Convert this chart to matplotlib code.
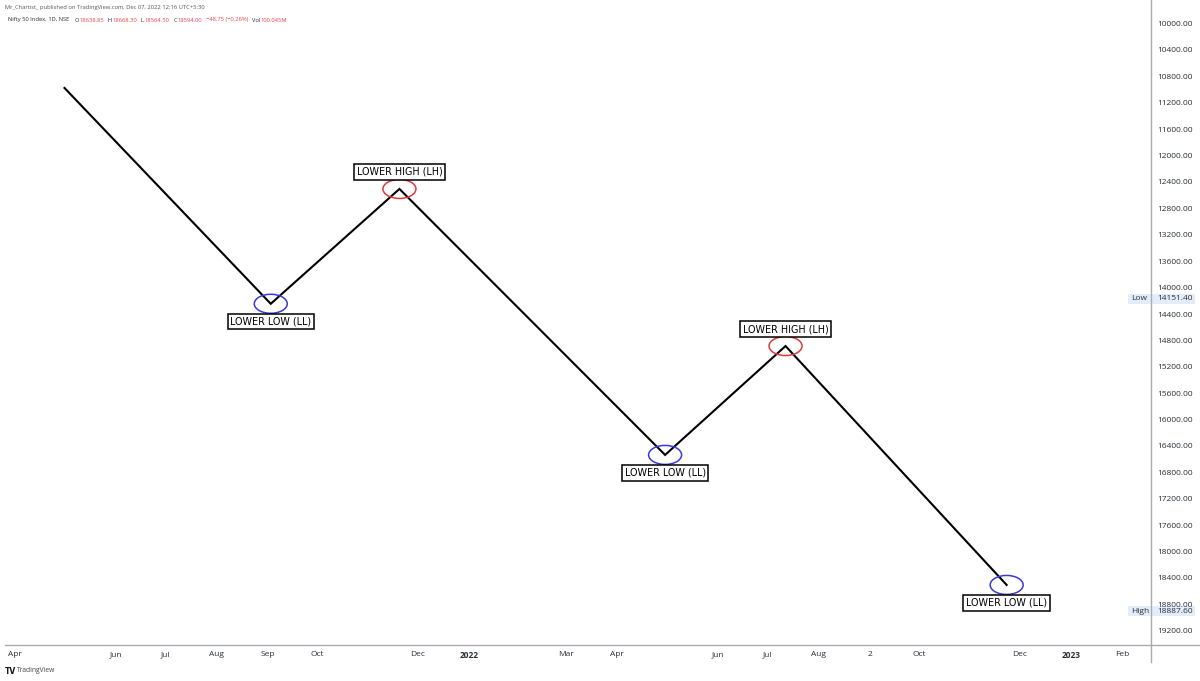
import matplotlib
matplotlib.use("Agg")
import matplotlib.pyplot as plt
import matplotlib.dates as mdates
from matplotlib.patches import Ellipse, Rectangle
from matplotlib.lines import Line2D
import datetime as dt

# ---- swing pivots of the drawn path ----
pivot_dates = ["2021-05-01", "2021-09-03", "2021-11-20", "2022-04-30", "2022-07-12", "2022-11-23"]
pivot_prices = [10960, 14230, 12490, 16520, 14870, 18490]
pivot_kind = [None, "LL", "LH", "LL", "LH", "LL"]
kind_text = {"LL": "LOWER LOW (LL)", "LH": "LOWER HIGH (LH)"}

# ---- price scale ----
price_ticks = [10000, 10400, 10800, 11200, 11600, 12000, 12400, 12800, 13200, 13600,
               14000, 14400, 14800, 15200, 15600, 16000, 16400, 16800, 17200, 17600,
               18000, 18400, 18800, 19200]
range_low = 14151.40
range_high = 18887.60

# ---- time scale ----
time_tick_dates = ["2021-04-01", "2021-06-01", "2021-07-01", "2021-08-01", "2021-09-01",
                   "2021-10-01", "2021-12-01", "2022-01-01", "2022-03-01", "2022-04-01",
                   "2022-06-01", "2022-07-01", "2022-08-01", "2022-09-01", "2022-10-01",
                   "2022-12-01", "2023-01-01", "2023-02-01"]
time_tick_labels = ["Apr", "Jun", "Jul", "Aug", "Sep", "Oct", "Dec", "2022", "Mar", "Apr",
                    "Jun", "Jul", "Aug", "2", "Oct", "Dec", "2023", "Feb"]

# ---- header ----
publisher_line = "Mr_Chartist_ published on TradingView.com, Dec 07, 2022 12:16 UTC+5:30"
symbol_line = "Nifty 50 Index, 1D, NSE"
ohlc_keys = ["O", "H", "L", "C", "", "Vol"]
ohlc_vals = ["18638.85", "18668.30", "18564.50", "18594.00", "\u221248.75 (\u22120.26%)", "100.045M"]

W, H, DPI = 1200, 681, 100
fig = plt.figure(figsize=(W / DPI, H / DPI), dpi=DPI)
fig.patch.set_facecolor("white")

def fx(px):
    return px / W

def fy(py):
    return 1 - py / H

plot_right, plot_bottom = 1151, 645
ax = fig.add_axes([0, fy(plot_bottom), fx(plot_right), plot_bottom / H])
ax.set_facecolor("white")
for s in ax.spines.values():
    s.set_visible(False)
ax.tick_params(left=False, bottom=False, labelleft=False, labelbottom=False)

t0 = mdates.date2num(dt.date(2021, 4, 1))
px_per_day = 1.65
ax.set_xlim(t0 - 15 / px_per_day, t0 + (plot_right - 15) / px_per_day)
px_per_unit = 0.066
ax.set_ylim(10000 + (plot_bottom - 24.6) / px_per_unit, 10000 - 24.6 / px_per_unit)

xs = [mdates.date2num(dt.date.fromisoformat(d)) for d in pivot_dates]
ax.plot(xs, pivot_prices, color="black", lw=1.5, solid_joinstyle="miter", zorder=3)

ell_w = 33 / px_per_day
ell_h = 19 / px_per_unit
for x, p, k in zip(xs, pivot_prices, pivot_kind):
    if k is None:
        continue
    col = "#3a3ad6" if k == "LL" else "#e03a3a"
    ax.add_patch(Ellipse((x, p), ell_w, ell_h, fill=False, edgecolor=col, lw=1.1, zorder=4))
    off = -18 if k == "LL" else 17
    ax.annotate(kind_text[k], (x, p), xytext=(0, off), textcoords="offset pixels",
                ha="center", va="center", fontsize=6.9, family="DejaVu Sans", color="black",
                bbox=dict(boxstyle="square,pad=0.28", fc="white", ec="black", lw=1.1), zorder=5)

# axis frame lines
axis_col = "#a9abb2"
fig.add_artist(Line2D([fx(5), 1], [fy(plot_bottom)] * 2, transform=fig.transFigure, color=axis_col, lw=1))
fig.add_artist(Line2D([fx(plot_right)] * 2, [1, fy(662)], transform=fig.transFigure, color=axis_col, lw=1))

label_font = "Open Sans"
txt_col = "#2a2e39"
axis_fs = 6.0

# price labels on the right scale
for p in price_ticks:
    y = ax.transData.transform((0, p))[1] / H
    fig.text(fx(1157), y, f"{p:.2f}", fontsize=axis_fs, family=label_font, color=txt_col,
             ha="left", va="center")

# visible-range low / high tags
for val, name in [(range_low, "Low"), (range_high, "High")]:
    y = ax.transData.transform((0, val))[1] / H
    fig.add_artist(Rectangle((fx(1128), y - 5 / H), fx(1195) - fx(1128), 10 / H,
                             transform=fig.transFigure, facecolor="#e3edf9", edgecolor="none", zorder=1))
    fig.text(fx(1131), y, name, fontsize=axis_fs, family=label_font, color=txt_col, ha="left", va="center", zorder=2)
    fig.text(fx(1157), y, f"{val:.2f}", fontsize=axis_fs, family=label_font, color=txt_col, ha="left", va="center", zorder=2)

# time labels
for d, lab in zip(time_tick_dates, time_tick_labels):
    x = ax.transData.transform((mdates.date2num(dt.date.fromisoformat(d)), 0))[0] / W
    bold = lab.isdigit() and len(lab) == 4
    fig.text(x, fy(655), lab, fontsize=axis_fs, family=label_font, color=txt_col,
             ha="center", va="center", fontweight="bold" if bold else "normal")

# header: publisher line, then the symbol line with OHLC values laid out one after another
hdr_fs = 4.15
fig.text(fx(5), fy(7), publisher_line, fontsize=hdr_fs, family=label_font, color="#555555", ha="left", va="center")
fig.canvas.draw()
renderer = fig.canvas.get_renderer()

def put(x_px, s, color, gap):
    t = fig.text(fx(x_px), fy(20), s, fontsize=hdr_fs, family=label_font, color=color, ha="left", va="center")
    return t.get_window_extent(renderer).x1 + gap

red = "#e8434a"
cur = put(8, symbol_line, txt_col, 5)
for k, v in zip(ohlc_keys, ohlc_vals):
    if k:
        cur = put(cur, k, txt_col, 0.3)
    cur = put(cur, v, red, 4)

# footer brand
fig.text(fx(5), fy(671), "TV", fontsize=5.5, family="DejaVu Sans", fontweight="bold", color="#131722",
         ha="left", va="center")
fig.text(fx(17), fy(671), "TradingView", fontsize=4.8, family=label_font, color="#444444", ha="left", va="center")

fig.savefig("out.png", dpi=DPI)
